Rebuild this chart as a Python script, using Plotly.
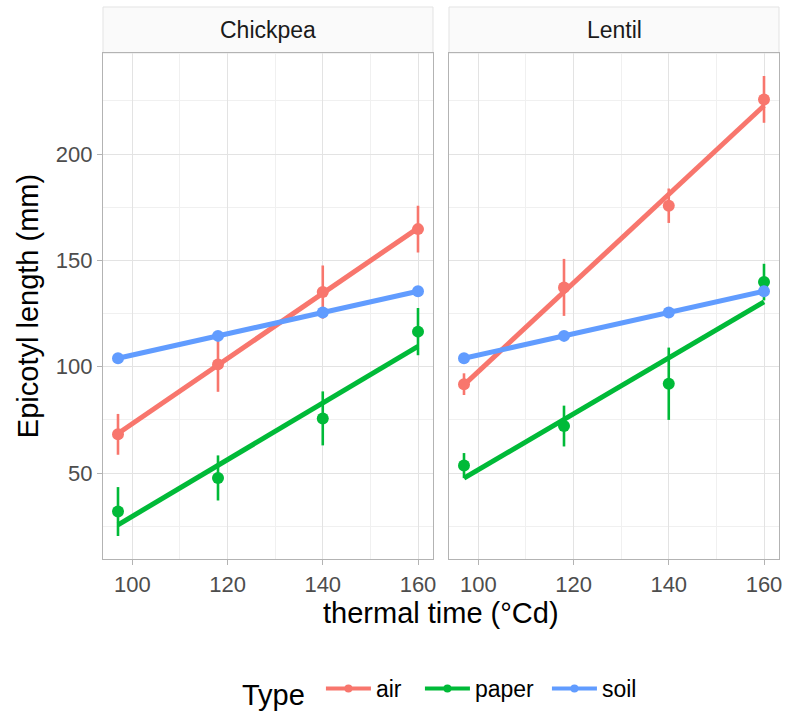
import numpy as np
import plotly.graph_objects as go
from plotly.subplots import make_subplots

# Thermal time at each harvest (°Cd)
thermal_time = [97, 118, 140, 160]

crops = ["Chickpea", "Lentil"]
types = ["air", "paper", "soil"]

# Mean epicotyl length (mm) and standard error, per crop and germination type
chickpea_air = [68.2, 101.1, 135.1, 164.7]
chickpea_air_se = [9.6, 12.9, 12.5, 11.0]
chickpea_paper = [31.9, 47.7, 75.7, 116.5]
chickpea_paper_se = [11.5, 10.6, 12.7, 11.1]
chickpea_soil = [104.0, 114.5, 125.5, 135.5]
chickpea_soil_se = [0.0, 0.0, 0.0, 0.0]

lentil_air = [91.8, 137.3, 175.7, 225.7]
lentil_air_se = [5.1, 13.4, 8.1, 11.0]
lentil_paper = [53.5, 72.1, 92.0, 139.8]
lentil_paper_se = [5.9, 9.6, 17.0, 8.6]
lentil_soil = [104.0, 114.5, 125.5, 135.5]
lentil_soil_se = [0.0, 0.0, 0.0, 0.0]

y_ticks = [50, 100, 150, 200]
x_ticks = [100, 120, 140, 160]

colors = {"air": "#F8766D", "paper": "#00BA38", "soil": "#619CFF"}
# horizontal room given to each legend label
legend_room = {"air": 39, "paper": 67, "soil": 35}

series = {
    ("Chickpea", "air"): (chickpea_air, chickpea_air_se),
    ("Chickpea", "paper"): (chickpea_paper, chickpea_paper_se),
    ("Chickpea", "soil"): (chickpea_soil, chickpea_soil_se),
    ("Lentil", "air"): (lentil_air, lentil_air_se),
    ("Lentil", "paper"): (lentil_paper, lentil_paper_se),
    ("Lentil", "soil"): (lentil_soil, lentil_soil_se),
}

FONT = "Arial, Liberation Sans, sans-serif"
BASE = 29
SMALL = 23
TICK = 22

W, H = 788, 717
ML, MR, MT, MB = 103, 9, 53, 158
plot_w = W - ML - MR
plot_h = H - MT - MB
gap = 16

fig = make_subplots(rows=1, cols=2, shared_yaxes=True,
                    horizontal_spacing=gap / plot_w)

x = np.array(thermal_time, dtype=float)
for ci, crop in enumerate(crops):
    col = ci + 1
    for t in types:
        y, se = series[(crop, t)]
        y = np.array(y)
        # linear fit drawn across the observed thermal-time span
        slope, icpt = np.polyfit(x, y, 1)
        xf = np.linspace(x.min(), x.max(), 50)
        fig.add_trace(go.Scatter(
            x=xf, y=slope * xf + icpt, mode="lines",
            line=dict(color=colors[t], width=5),
            showlegend=False, hoverinfo="skip"), row=1, col=col)
        fig.add_trace(go.Scatter(
            x=x, y=y, mode="markers",
            marker=dict(color=colors[t], size=12),
            error_y=dict(type="data", array=se, visible=True,
                         color=colors[t], thickness=2.6, width=0),
            showlegend=False, name=t), row=1, col=col)

# legend keys
for t in types:
    fig.add_trace(go.Scatter(
        x=[None], y=[None], mode="lines+markers", name=t,
        legendwidth=legend_room[t],
        line=dict(color=colors[t], width=4),
        marker=dict(color=colors[t], size=8)), row=1, col=1)

# axis ranges with 5% expansion of the data extent
all_lo = min(min(np.array(v) - np.array(s)) for v, s in series.values())
all_hi = max(max(np.array(v) + np.array(s)) for v, s in series.values())
ypad = 0.05 * (all_hi - all_lo)
xpad = 0.05 * (x.max() - x.min())
yr = [all_lo - ypad, all_hi + ypad]
xr = [x.min() - xpad, x.max() + xpad]

grid_major = "#E3E3E3"
grid_minor = "#F0F0F0"
border = "#B3B3B3"

axis_common = dict(
    showline=True, linecolor=border, linewidth=1.3, mirror=True,
    showgrid=True, gridcolor=grid_major, gridwidth=1,
    zeroline=False,
    ticks="outside", ticklen=5, tickwidth=1, tickcolor=border,
    tickfont=dict(family=FONT, size=TICK, color="#4D4D4D"),
)

d1 = (plot_w - gap) / 2 / plot_w
for i, dom in enumerate([[0, d1], [1 - d1, 1]]):
    key = "xaxis" if i == 0 else "xaxis2"
    fig.layout[key].update(
        range=xr, domain=dom, tickmode="array", tickvals=x_ticks,
        minor=dict(tickvals=[90, 110, 130, 150], showgrid=True,
                   gridcolor=grid_minor, gridwidth=0.8, ticks=""),
        **axis_common)

fig.layout.yaxis.update(
    range=yr, tickmode="array", tickvals=y_ticks,
    minor=dict(tickvals=[25, 75, 125, 175, 225], showgrid=True,
               gridcolor=grid_minor, gridwidth=0.8, ticks=""),
    title=dict(text="Epicotyl length (mm)", standoff=8,
               font=dict(family=FONT, size=BASE, color="black")),
    **axis_common)
fig.layout.yaxis2.update(
    range=yr, tickmode="array", tickvals=y_ticks, showticklabels=False,
    minor=dict(tickvals=[25, 75, 125, 175, 225], showgrid=True,
               gridcolor=grid_minor, gridwidth=0.8, ticks=""),
    **{**axis_common, "ticks": ""})

# shared x title centred under both panels
fig.add_annotation(
    text="thermal time (°Cd)", xref="paper", yref="paper",
    x=0.5, y=-(613 - (H - MB)) / plot_h, yanchor="middle",
    showarrow=False, font=dict(family=FONT, size=BASE, color="black"))

# facet strips
strip_top = 1 + 46 / plot_h
for i, crop in enumerate(crops):
    xref = "x domain" if i == 0 else "x2 domain"
    fig.add_shape(type="rect", xref=xref, yref="paper",
                  x0=0, x1=1, y0=1, y1=strip_top,
                  fillcolor="#FAFAFA", line=dict(color="#E3E3E3", width=1),
                  layer="below")
    fig.add_annotation(text=crop, xref=xref, yref="paper",
                       x=0.5, y=(1 + strip_top) / 2, yanchor="middle",
                       showarrow=False,
                       font=dict(family=FONT, size=SMALL, color="#1A1A1A"))

fig.update_layout(
    width=W, height=H,
    margin=dict(l=ML, r=MR, t=MT, b=MB, autoexpand=False),
    paper_bgcolor="white", plot_bgcolor="white",
    showlegend=True,
    legend=dict(
        orientation="h", x=0.5, xanchor="center",
        y=-(691 - (H - MB)) / plot_h, yanchor="middle",
        title=dict(text="Type ", font=dict(family=FONT, size=BASE, color="black")),
        font=dict(family=FONT, size=SMALL, color="black"),
        itemwidth=45, bgcolor="rgba(0,0,0,0)",
    ),
)

fig.write_html("out.html")
